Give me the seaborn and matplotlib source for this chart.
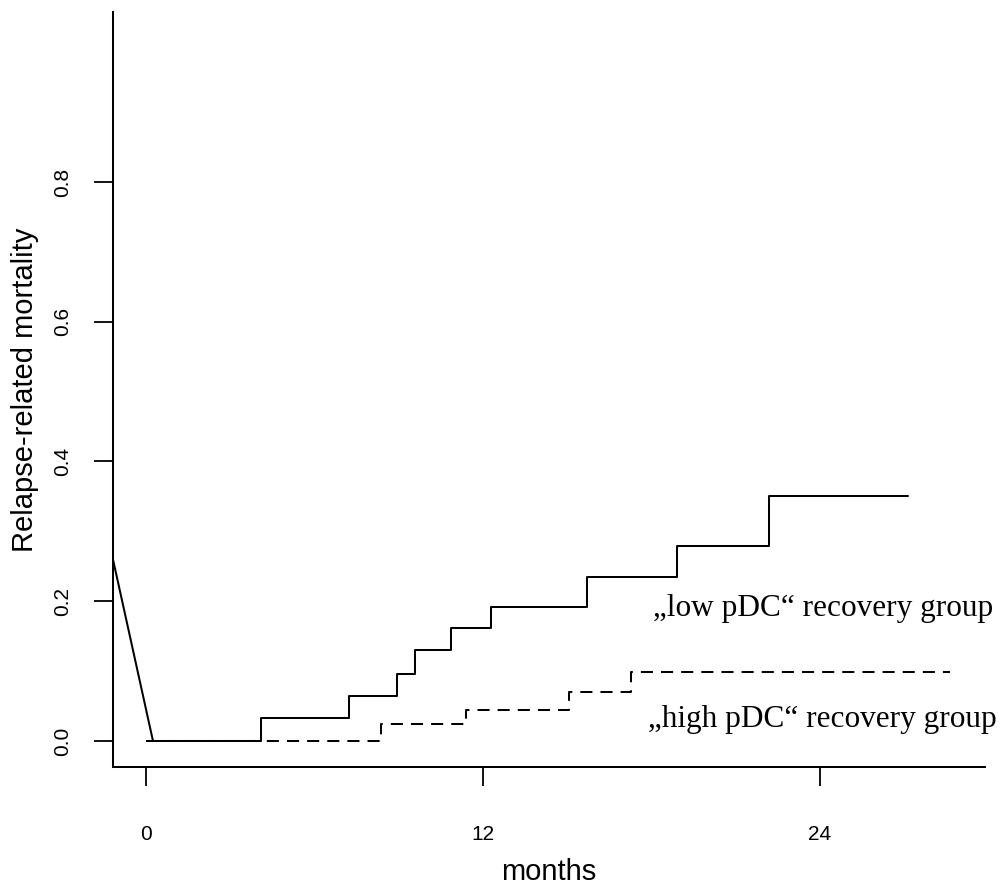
import matplotlib
matplotlib.use("Agg")
import matplotlib.pyplot as plt
import seaborn as sns
import pandas as pd

# ---- data ----
low_months = [0.25, 4.10, 7.23, 8.94, 9.58, 10.86, 12.28, 15.70, 18.91, 22.18, 27.13]
low_values = [0.0, 0.033, 0.064, 0.096, 0.130, 0.162, 0.192, 0.235, 0.279, 0.351, 0.351]
low_lead_months = [-1.17, 0.25]
low_lead_values = [0.259, 0.0]
high_months = [0.0, 8.37, 11.39, 15.06, 17.27, 28.63]
high_values = [0.0, 0.024, 0.044, 0.070, 0.099, 0.099]
x_ticks = [0, 12, 24]
y_ticks = [0.0, 0.2, 0.4, 0.6, 0.8]
y_tick_labels = ["0.0", "0.2", "0.4", "0.6", "0.8"]
label_low = "\u201elow pDC\u201c recovery group"
label_high = "\u201ehigh pDC\u201c recovery group"

sns.set_style("ticks")
plt.rcParams["font.family"] = ["Liberation Sans", "DejaVu Sans"]
plt.rcParams["text.color"] = "black"
plt.rcParams["axes.labelcolor"] = "black"
plt.rcParams["xtick.color"] = "black"
plt.rcParams["ytick.color"] = "black"

fig = plt.figure(figsize=(10.06, 8.84), dpi=100)
ax = fig.add_axes([0.1123, 0.1324, 0.8668, 0.8540])

lw = 1.45
df_low = pd.DataFrame({"m": low_months, "v": low_values})
df_lead = pd.DataFrame({"m": low_lead_months, "v": low_lead_values})
df_high = pd.DataFrame({"m": high_months, "v": high_values})

sns.lineplot(data=df_high, x="m", y="v", ax=ax, color="black", lw=lw,
             drawstyle="steps-post", estimator=None, sort=False)
ax.lines[-1].set_dashes((6, 4))
sns.lineplot(data=df_lead, x="m", y="v", ax=ax, color="black", lw=lw,
             estimator=None, sort=False)
sns.lineplot(data=df_low, x="m", y="v", ax=ax, color="black", lw=lw,
             drawstyle="steps-post", estimator=None, sort=False)

ax.set_xlim(-1.175, 29.876)
ax.set_ylim(-0.0372, 1.0433)
ax.set_xticks(x_ticks)
ax.set_xticklabels([str(t) for t in x_ticks], fontsize=15)
ax.set_yticks(y_ticks)
ax.set_yticklabels(y_tick_labels, rotation=90, va="center", fontsize=15)

for s in ["top", "right"]:
    ax.spines[s].set_visible(False)
for s in ["left", "bottom"]:
    ax.spines[s].set_linewidth(1.45)
    ax.spines[s].set_color("black")

ax.tick_params(axis="both", direction="out", length=13.5, width=1.3,
               colors="black")
ax.tick_params(axis="x", pad=28)
ax.tick_params(axis="y", pad=16)

ax.set_xlabel("months", fontsize=21, va="center", color="black")
ax.xaxis.set_label_coords(0.5, -0.139)
ax.set_ylabel("Relapse-related mortality", fontsize=21, va="center", color="black")
ax.yaxis.set_label_coords(-0.101, 0.5)

serif = ["Liberation Serif", "DejaVu Serif"]
ax.text(24.1, 0.179, label_low, family=serif, fontsize=22.5,
        ha="center", va="baseline", color="black")
ax.text(24.1, 0.020, label_high, family=serif, fontsize=22.5,
        ha="center", va="baseline", color="black")

fig.savefig("out.png", dpi=100)
